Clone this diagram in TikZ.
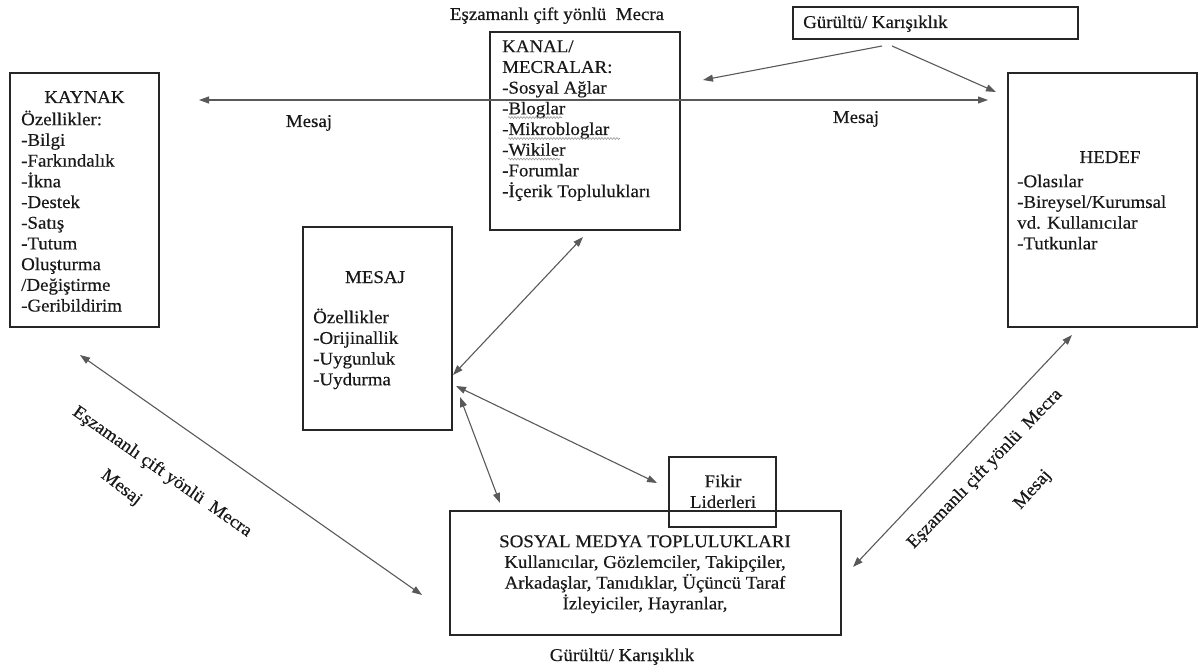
\documentclass[tikz,border=0pt]{standalone}
\usepackage{fontspec}
\setmainfont[FakeStretch=1.05,FakeBold=0.4]{Liberation Serif}
\usetikzlibrary{arrows.meta,decorations.pathmorphing}
\newcommand\fsz{\fontsize{18}{20.7}\selectfont}
\newcommand\tp{\rule{0pt}{17pt}}
\begin{document}
\begin{tikzpicture}[x=1pt,y=-1pt,
  boxn/.style={draw=black!85, line width=1.1pt, inner sep=0, rectangle},
  txt/.style={inner sep=0, font=\fsz, text=black!90},
  lst/.style={txt, align=left, anchor=north west},
  ctr/.style={txt, align=center, anchor=north},
  conn/.style={draw=black!65, line width=1.1pt},
  tip/.style={-{Triangle[length=10pt,width=7pt]}},
  both/.style={{Triangle[length=10pt,width=7pt]}-{Triangle[length=10pt,width=7pt]}},
  wave/.style={draw=black!40, line width=0.6pt, decorate, decoration={snake, amplitude=0.9pt, segment length=3pt}}
]
\useasboundingbox (0,0) rectangle (1198,668);

% boxes
\node[boxn, minimum width=149pt, minimum height=254pt] (kaynak) at (84.5,200) {};
\node[boxn, minimum width=190pt, minimum height=198pt] (kanal) at (585,131) {};
\node[boxn, minimum width=189pt, minimum height=254pt] (hedef) at (1102.5,200) {};
\node[boxn, minimum width=149pt, minimum height=203pt] (mesaj) at (377.5,328.5) {};
\node[boxn, minimum width=391pt, minimum height=124pt] (sosyal) at (645.5,573) {};
\node[boxn, minimum width=107pt, minimum height=70pt] (fikir) at (722.5,492) {};
\node[boxn, minimum width=285pt, minimum height=32pt] (gurultu) at (935.5,23) {};

% texts
\node[txt, anchor=base] (kaynakT) at (84.5,103) {KAYNAK};
\node[lst] (kaynakL) at (21,108) {\tp Özellikler:\\-Bilgi\\-Farkındalık\\-İkna\\-Destek\\-Satış\\-Tutum\\Oluşturma\\/Değiştirme\\-Geribildirim};
\node[lst] (kanalL) at (502,35) {\tp KANAL/\\MECRALAR:\\-Sosyal Ağlar\\-Bloglar\\-Mikrobloglar\\-Wikiler\\-Forumlar\\-İçerik Toplulukları};
\node[txt, anchor=base] (hedefT) at (1110,163) {HEDEF};
\node[lst] (hedefL) at (1017,170) {\tp -Olasılar\\-Bireysel/Kurumsal\\vd. Kullanıcılar\\-Tutkunlar};
\node[txt, anchor=base] (mesajT) at (375,283) {MESAJ};
\node[lst] (mesajL) at (313,306) {\tp Özellikler\\-Orijinallik\\-Uygunluk\\-Uydurma};
\node[ctr] (fikirT) at (723,470) {\tp Fikir\\Liderleri};
\node[ctr] (sosyalT) at (645,530) {\tp SOSYAL MEDYA TOPLULUKLARI\\Kullanıcılar, Gözlemciler, Takipçiler,\\Arkadaşlar, Tanıdıklar, Üçüncü Taraf\\İzleyiciler, Hayranlar,};
\node[txt, anchor=base west] (gurultuT) at (803,28) {Gürültü/ Karışıklık};
\node[txt, anchor=base] (gurultuB) at (622,661) {Gürültü/ Karışıklık};
\node[txt, anchor=base] (eszTop) at (557,20) {Eşzamanlı çift yönlü\ \ Mecra};
\node[txt, anchor=base] (mesajLeft) at (309,127) {Mesaj};
\node[txt, anchor=base] (mesajRight) at (856,123) {Mesaj};
\node[txt, rotate=-35] (eszLeft) at (162,472) {Eşzamanlı çift yönlü\ \ Mecra};
\node[txt, rotate=-38] (mesajDL) at (121,488) {Mesaj};
\node[txt, rotate=46] (eszRight) at (985,469) {Eşzamanlı çift yönlü\ \ Mecra};
\node[txt, rotate=48] (mesajDR) at (1033,490) {Mesaj};

% spell-check waves
\coordinate (w1a) at (508,117.5); \coordinate (w1b) at (562,117.5);
\coordinate (w2a) at (508,138.5); \coordinate (w2b) at (620,138.5);
\coordinate (w3a) at (508,159); \coordinate (w3b) at (560,159);
\draw[wave] (w1a) -- (w1b);
\draw[wave] (w2a) -- (w2b);
\draw[wave] (w3a) -- (w3b);

% connector end points
\coordinate (topL) at (199,100);
\coordinate (topR) at (988,100);
\coordinate (gA) at (882,46);
\coordinate (gB) at (892,46);
\coordinate (kanalR) at (703,80);
\coordinate (hedefL) at (996,92);
\coordinate (mK) at (453,375);
\coordinate (kM) at (583,237);
\coordinate (mF) at (456,386);
\coordinate (fM) at (657,483);
\coordinate (mS) at (460,397);
\coordinate (sM) at (500,503);
\coordinate (kS1) at (80,355);
\coordinate (kS2) at (422,595);
\coordinate (hS1) at (1072,335);
\coordinate (hS2) at (853,567);

\draw[conn, both] (topL) -- (topR);
\draw[conn, tip] (gA) -- (kanalR);
\draw[conn, tip] (gB) -- (hedefL);
\draw[conn, both] (mK) -- (kM);
\draw[conn, both] (mF) -- (fM);
\draw[conn, both] (mS) -- (sM);
\draw[conn, both] (kS1) -- (kS2);
\draw[conn, both] (hS1) -- (hS2);
\end{tikzpicture}
\end{document}
